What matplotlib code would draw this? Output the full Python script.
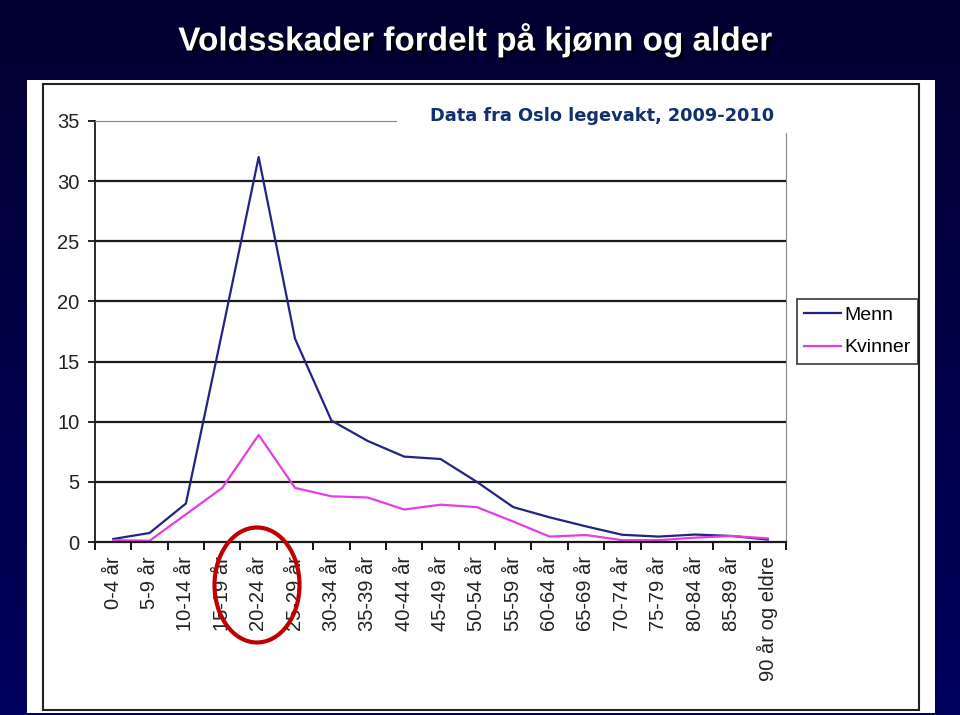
import matplotlib
matplotlib.use("Agg")
import matplotlib.pyplot as plt
import matplotlib.patheffects as pe
from matplotlib.patches import Rectangle, Ellipse
import numpy as np

plt.rcParams['font.family'] = ['Liberation Sans', 'DejaVu Sans']

# data
age_groups = ["0-4 år", "5-9 år", "10-14 år", "15-19 år", "20-24 år", "25-29 år",
              "30-34 år", "35-39 år", "40-44 år", "45-49 år", "50-54 år", "55-59 år",
              "60-64 år", "65-69 år", "70-74 år", "75-79 år", "80-84 år", "85-89 år",
              "90 år og eldre"]
menn = [0.25, 0.75, 3.2, 17.5, 32.0, 16.9, 10.1, 8.4, 7.1, 6.9, 5.0, 2.9,
        2.05, 1.3, 0.6, 0.45, 0.62, 0.5, 0.2]
kvinner = [0.15, 0.1, 2.3, 4.5, 8.9, 4.5, 3.8, 3.7, 2.7, 3.1, 2.9, 1.7,
           0.45, 0.58, 0.15, 0.15, 0.36, 0.5, 0.3]
y_ticks = [0, 5, 10, 15, 20, 25, 30, 35]

W, H = 960, 715
fig = plt.figure(figsize=(W / 100, H / 100), dpi=100)

# slide background with panel
bg = fig.add_axes([0, 0, 1, 1], zorder=-10)
bg.set_xlim(0, W)
bg.set_ylim(H, 0)
bg.axis('off')
grad = np.linspace(0, 1, 256).reshape(-1, 1)
top = np.array([3, 0, 48]) / 255
bot = np.array([0, 0, 95]) / 255
img = top + grad[..., None] * (bot - top)
bg.imshow(np.repeat(img, 2, axis=1), extent=[0, W, H, 0], aspect='auto')
bg.add_patch(Rectangle((27, 80), 908, 633, facecolor='white', edgecolor='none'))
bg.add_patch(Rectangle((43, 84), 876, 626, facecolor='none', edgecolor='#222222', lw=1.5))

# main chart
ax = fig.add_axes([95 / W, 1 - 542 / H, (786 - 95) / W, (542 - 121) / H])
ax.set_facecolor('none')
x = np.arange(len(age_groups))
ax.plot(x, menn, color='#232383', lw=1.6, label='Menn')
ax.plot(x, kvinner, color='#e63ce6', lw=1.6, label='Kvinner')
ax.set_xlim(-0.5, len(age_groups) - 0.5)
ax.set_ylim(0, 35)
ax.set_yticks(y_ticks)
for v in y_ticks[1:-1]:
    ax.axhline(v, color='#1a1a1a', lw=1.6, zorder=0)
ax.spines['top'].set_color('#888888')
ax.spines['right'].set_color('#888888')
ax.spines['left'].set_color('#1a1a1a')
ax.spines['bottom'].set_color('#1a1a1a')
ax.spines['left'].set_linewidth(1.3)
ax.spines['bottom'].set_linewidth(1.6)
ax.tick_params(axis='y', direction='out', length=5, width=1.2, pad=6,
               labelsize=14.5, labelcolor='#222222')
ax.set_xticks(x)
ax.set_xticklabels(age_groups, rotation=90, fontsize=14.5, color='#222222')
ax.set_xticks(np.arange(-0.5, len(age_groups)), minor=True)
ax.tick_params(axis='x', which='major', length=0, pad=10)
ax.tick_params(axis='x', which='minor', direction='out', length=6, width=1.3)

leg = fig.legend(loc='center', bbox_to_anchor=(857.5 / W, 1 - 331.5 / H), fontsize=14,
                 frameon=True, fancybox=False, edgecolor='#1a1a1a', handlelength=1.9,
                 handletextpad=0.15, borderpad=0.4, labelspacing=0.75, borderaxespad=0)
leg.get_frame().set_linewidth(1.3)

# overlay: header text over chart, ellipse, slide title
ov = fig.add_axes([0, 0, 1, 1], zorder=10)
ov.set_xlim(0, W)
ov.set_ylim(H, 0)
ov.axis('off')
ov.patch.set_alpha(0)
ov.add_patch(Rectangle((397, 86), 400, 47, facecolor='white', edgecolor='none'))
ov.text(602, 116, "Data fra Oslo legevakt, 2009-2010", ha='center', va='center',
        fontsize=12.8, fontweight='bold', color='#12306e', family='DejaVu Sans')
ov.add_patch(Ellipse((257, 585), 85, 115, facecolor='none', edgecolor='#c00000', lw=3))
ov.text(476, 40, "Voldsskader fordelt på kjønn og alder", ha='center', va='center',
        fontsize=24, fontweight='bold', color='white',
        path_effects=[pe.withSimplePatchShadow(offset=(2, -2), shadow_rgbFace='black', alpha=0.9)])

fig.savefig('out.png', dpi=100)
